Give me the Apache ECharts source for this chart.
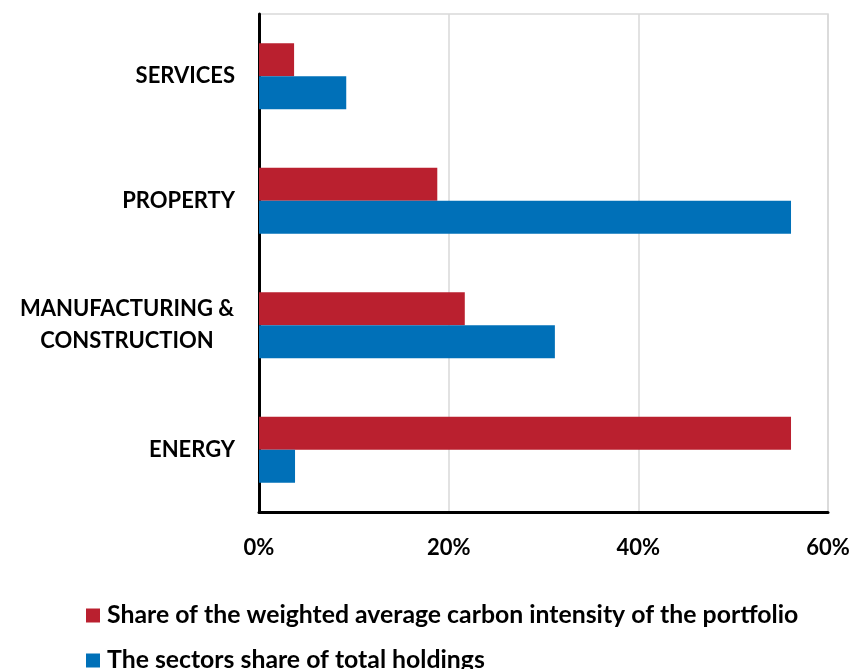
<!DOCTYPE html>
<html>
<head>
<meta charset="utf-8">
<script src="https://cdn.jsdelivr.net/npm/echarts@6/dist/echarts.min.js"></script>
<style>
  html, body { margin: 0; padding: 0; background: #fff; }
  #chart { width: 854px; height: 669px; }
</style>
</head>
<body>
<div id="chart"></div>
<script>
// Sectors, listed bottom to top along the category axis
const sectors = ['ENERGY', 'MANUFACTURING & CONSTRUCTION', 'PROPERTY', 'SERVICES'];

// Share of the weighted average carbon intensity (%)
const carbonShare = [56.1, 21.7, 18.8, 3.7];

// Sector share of total holdings (%)
const holdingsShare = [3.8, 31.2, 56.1, 9.2];

const carbonName = 'Share of the weighted average carbon intensity of the portfolio';
const holdingsName = 'The sectors share of total holdings';

const xTicks = { min: 0, max: 60, interval: 20 };

const FONT = 'Lato';
const AXIS_FONT = 22;
const LEGEND_FONT = 24.8;

const legendText = {
  fontFamily: FONT, fontWeight: 'bold', fontSize: LEGEND_FONT, color: '#000',
  lineHeight: 25, padding: [0, 0, 0, 2]
};

const chart = echarts.init(document.getElementById('chart'), null, { renderer: 'canvas' });

chart.setOption({
  animation: false,
  backgroundColor: '#ffffff',
  grid: {
    left: 259, right: 26, top: 14, bottom: 157,
    show: true, borderColor: '#d9d9d9', borderWidth: 1.5
  },
  legend: [
    {
      data: [carbonName],
      left: 81, top: 598,
      itemWidth: 14, itemHeight: 14,
      icon: 'rect',
      textStyle: legendText
    },
    {
      data: [holdingsName],
      left: 81, top: 643,
      itemWidth: 14, itemHeight: 14,
      icon: 'rect',
      textStyle: legendText
    }
  ],
  xAxis: {
    type: 'value',
    min: xTicks.min, max: xTicks.max, interval: xTicks.interval,
    axisLine: { show: true, lineStyle: { color: '#000', width: 3 } },
    axisTick: { show: false },
    splitLine: { show: true, lineStyle: { color: '#d9d9d9', width: 1.5 } },
    axisLabel: {
      formatter: v => v + '%',
      margin: 25,
      fontFamily: FONT, fontWeight: 'bold', fontSize: AXIS_FONT, color: '#000'
    }
  },
  yAxis: {
    type: 'category',
    data: sectors,
    axisLine: { show: true, onZero: false, lineStyle: { color: '#000', width: 3 } },
    axisTick: { show: false },
    splitLine: { show: false },
    axisLabel: {
      margin: 24,
      fontFamily: FONT, fontWeight: 'bold', fontSize: AXIS_FONT, color: '#000',
      lineHeight: 32,
      formatter: v => {
        if (v === 'MANUFACTURING & CONSTRUCTION') {
          return '{c|MANUFACTURING &}\n{c|CONSTRUCTION}';
        }
        return v;
      },
      rich: {
        c: {
          width: 216, align: 'center',
          fontFamily: FONT, fontWeight: 'bold', fontSize: AXIS_FONT, color: '#000', lineHeight: 32
        }
      }
    }
  },
  series: [
    {
      name: carbonName,
      type: 'bar',
      data: carbonShare,
      itemStyle: { color: '#ba202f' },
      barGap: '0%',
      barCategoryGap: '47%'
    },
    {
      name: holdingsName,
      type: 'bar',
      data: holdingsShare,
      itemStyle: { color: '#0070b8' },
      barGap: '0%',
      barCategoryGap: '47%'
    }
  ]
});
</script>
</body>
</html>
